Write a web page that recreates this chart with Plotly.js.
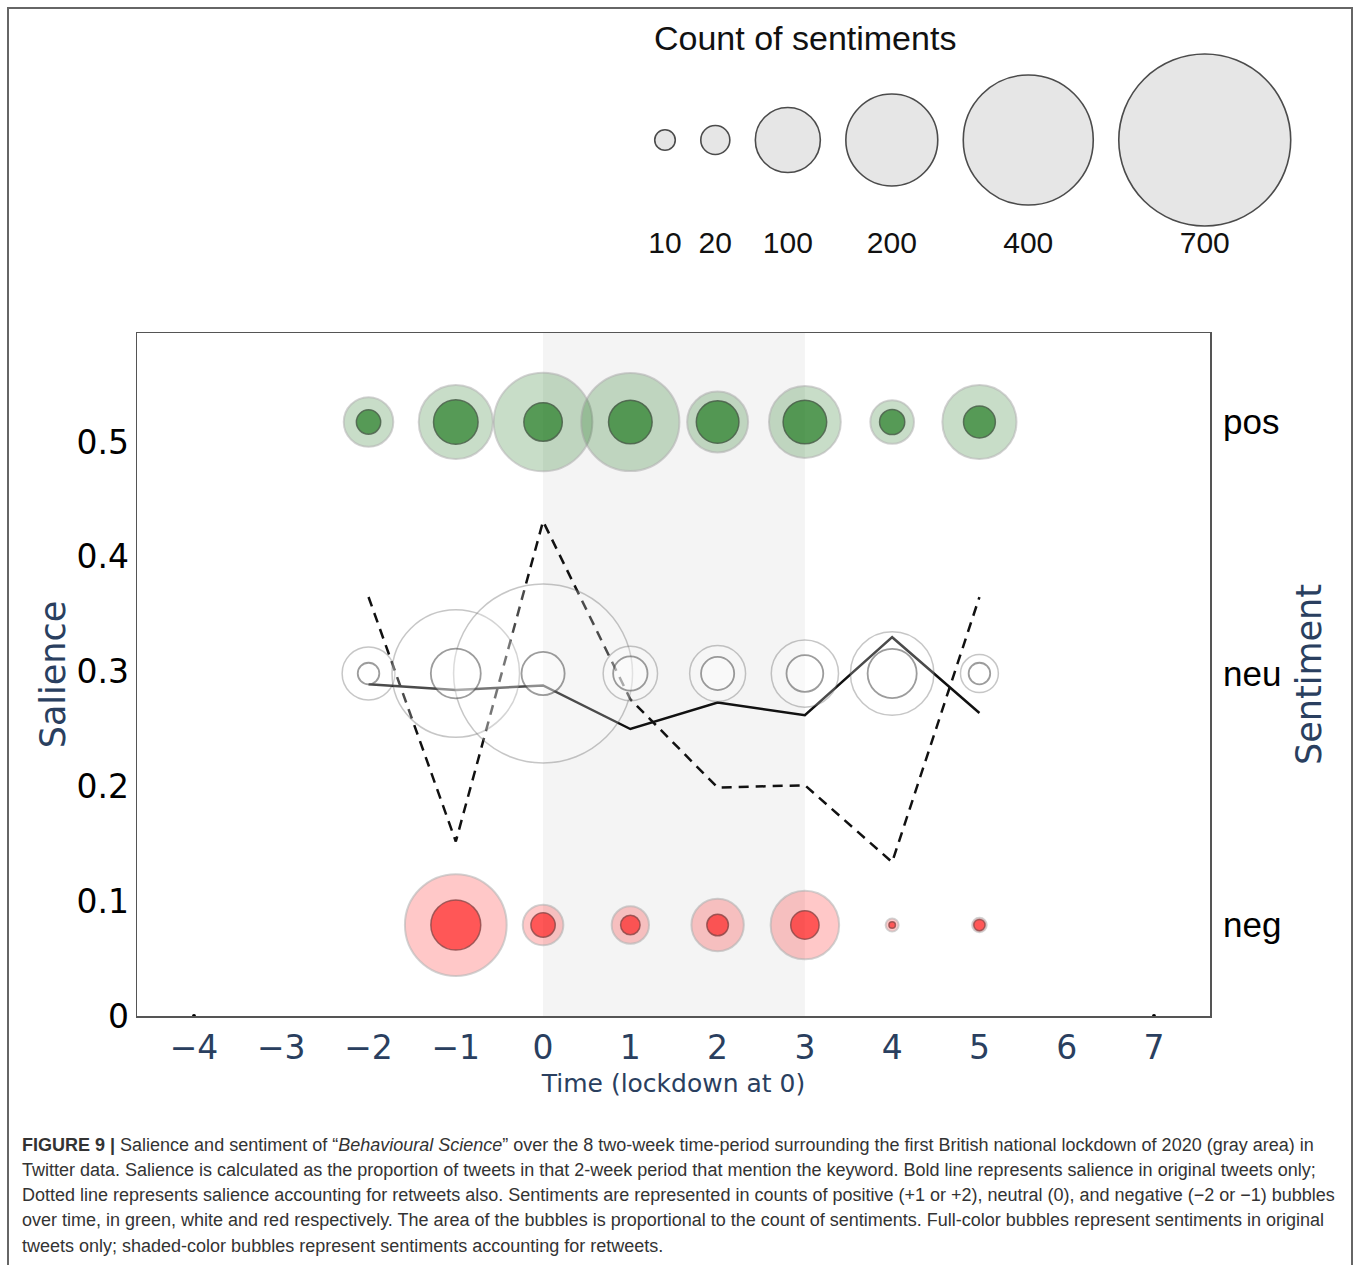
<!DOCTYPE html>
<html><head><meta charset="utf-8">
<script src="https://cdn.plot.ly/plotly-3.0.1.min.js"></script>
<style>html,body{margin:0;padding:0;background:#fff}#chart{width:1360px;height:1265px}</style>
</head><body><div id="chart"></div>
<script>
// ---- data ----
const periods = [-2, -1, 0, 1, 2, 3, 4, 5];
const salienceOriginal = [0.289, 0.284, 0.288, 0.250, 0.273, 0.262, 0.330, 0.264];
const salienceRetweets = [0.365, 0.152, 0.431, 0.276, 0.199, 0.201, 0.134, 0.365];
const posAll  = [58, 130, 230, 228, 88, 122, 45, 130];
const posOrig = [14, 47, 35, 45, 43, 45, 15, 24];
const neuAll  = [66, 385, 758, 70, 74, 107, 165, 34];
const neuOrig = [11, 59, 44, 28, 26, 32, 57, 11];
const negPeriods = [-1, 0, 1, 2, 3, 4, 5];
const negAll  = [245, 39, 33, 65, 111, 4, 5];
const negOrig = [59, 14, 9, 11, 19, 1, 3];
const sentimentLabels = ['neg', 'neu', 'pos'];
const legendCounts = [10, 20, 100, 200, 400, 700];
const lockdownStart = 0, lockdownEnd = 3;
const axisEnds = [-4, 7];

const captionLines = [
  '<b>FIGURE 9 |</b> Salience and sentiment of “<i>Behavioural Science</i>” over the 8 two-week time-period surrounding the first British national lockdown of 2020 (gray area) in',
  'Twitter data. Salience is calculated as the proportion of tweets in that 2-week period that mention the keyword. Bold line represents salience in original tweets only;',
  'Dotted line represents salience accounting for retweets also. Sentiments are represented in counts of positive (+1 or +2), neutral (0), and negative (−2 or −1) bubbles',
  'over time, in green, white and red respectively. The area of the bubbles is proportional to the count of sentiments. Full-color bubbles represent sentiments in original',
  'tweets only; shaded-color bubbles represent sentiments accounting for retweets.'
];

// ---- layout helpers ----
const W = 1360, H = 1265;
const SIZEREF = 0.04734;
const diam = c => 2 * Math.sqrt(c / (2 * SIZEREF));
const legendX = [];
let cx = 665;
legendCounts.forEach((c, i) => {
  if (i > 0) cx += diam(legendCounts[i - 1]) / 2 + 25.5 + diam(c) / 2;
  legendX.push(cx);
});
const rowOf = (lab, n) => Array(n).fill(sentimentLabels.indexOf(lab));

function bubble(x, y, sizes, fill, lineColor, lineWidth) {
  return {
    type: 'scatter', mode: 'markers', x: x, y: y, xaxis: 'x', yaxis: 'y2',
    marker: { size: sizes, sizemode: 'area', sizeref: SIZEREF, color: fill,
              line: { color: lineColor, width: lineWidth } },
    cliponaxis: false, hoverinfo: 'skip'
  };
}

const traces = [
  { type: 'scatter', mode: 'lines', x: periods, y: salienceOriginal, xaxis: 'x', yaxis: 'y',
    line: { color: '#111', width: 2.5 }, hoverinfo: 'skip' },
  { type: 'scatter', mode: 'lines', x: periods, y: salienceRetweets, xaxis: 'x', yaxis: 'y',
    line: { color: '#111', width: 2.5, dash: '10px,7px' }, hoverinfo: 'skip' },
  { type: 'scatter', mode: 'markers', x: axisEnds, y: [0, 0], xaxis: 'x', yaxis: 'y',
    marker: { size: 4, color: '#000' }, cliponaxis: false, hoverinfo: 'skip' },
  bubble(periods, rowOf('pos', periods.length), posAll, 'rgba(0,100,0,0.3)', 'rgba(150,150,150,0.6)', 2),
  bubble(periods, rowOf('neu', periods.length), neuAll, 'rgba(255,255,255,0.35)', 'rgba(110,110,110,0.55)', 1.5),
  bubble(negPeriods, rowOf('neg', negPeriods.length), negAll, 'rgba(255,0,0,0.3)', 'rgba(150,150,150,0.6)', 2),
  bubble(periods, rowOf('pos', periods.length), posOrig, 'rgba(10,110,10,0.85)', 'rgba(25,45,25,0.85)', 1.5),
  bubble(periods, rowOf('neu', periods.length), neuOrig, 'rgba(255,255,255,0.55)', 'rgba(80,80,80,0.8)', 1.8),
  bubble(negPeriods, rowOf('neg', negPeriods.length), negOrig, 'rgba(255,0,0,0.8)', 'rgba(90,20,20,0.8)', 1.5),
  { type: 'scatter', mode: 'markers', x: legendX, y: legendX.map(() => 140), xaxis: 'x3', yaxis: 'y3',
    marker: { size: legendCounts, sizemode: 'area', sizeref: SIZEREF, color: '#dcdcdc',
              line: { color: '#000', width: 1.6 } }, cliponaxis: false, hoverinfo: 'skip' },
  { type: 'scatter', mode: 'text', x: legendX, y: legendX.map(() => 245), xaxis: 'x3', yaxis: 'y3',
    text: legendCounts.map(String), textposition: 'middle center',
    textfont: { family: 'Liberation Sans, Arial, sans-serif', size: 30, color: '#111' },
    cliponaxis: false, hoverinfo: 'skip' }
];

const navy = '#2a3f5f';
const annotations = [
  { xref: 'x3', yref: 'y3', x: 652, y: 38, xanchor: 'left', yanchor: 'middle', showarrow: false,
    text: 'Count of sentiments', font: { family: 'Liberation Sans, Arial, sans-serif', size: 34, color: '#111' } }
];
const capY = [1145, 1170, 1195, 1220, 1246];
captionLines.forEach((t, i) => annotations.push({
  xref: 'paper', yref: 'paper', x: 20 / W, y: 1 - capY[i] / H, xanchor: 'left', yanchor: 'middle',
  align: 'left', showarrow: false, text: t,
  font: { family: 'Liberation Sans, Arial, sans-serif', size: 18, color: '#333' }
}));

const layout = {
  width: W, height: H, margin: { l: 0, r: 0, t: 0, b: 0, pad: 0 },
  paper_bgcolor: '#fff', plot_bgcolor: '#fff', showlegend: false, hovermode: false,
  xaxis: {
    domain: [137 / W, 1210 / W], range: [-4.653, 7.642], tick0: 0, dtick: 1, anchor: 'y',
    showgrid: false, zeroline: false, showline: true, mirror: true, linecolor: '#555', linewidth: 1.5,
    ticks: '', ticklabelstandoff: 2,
    tickfont: { family: 'DejaVu Sans, Verdana, sans-serif', size: 33, color: navy },
    title: { text: 'Time (lockdown at 0)', standoff: 8,
             font: { family: 'DejaVu Sans, Verdana, sans-serif', size: 25, color: navy } }
  },
  yaxis: {
    domain: [1 - 1016 / H, 1 - 333 / H], range: [0, 0.595], tick0: 0, dtick: 0.1, anchor: 'x',
    showgrid: false, zeroline: false, showline: true, mirror: true, linecolor: '#555', linewidth: 1.5,
    ticks: '', ticklabelstandoff: 0,
    tickfont: { family: 'DejaVu Sans, Verdana, sans-serif', size: 33, color: '#000' },
    title: { text: 'Salience', standoff: 0,
             font: { family: 'DejaVu Sans, Verdana, sans-serif', size: 35, color: navy } }
  },
  yaxis2: {
    overlaying: 'y', side: 'right', anchor: 'x', range: [-0.3618, 2.3539],
    tickvals: [0, 1, 2], ticktext: sentimentLabels, showgrid: false, zeroline: false, showline: false,
    ticks: '', ticklabelstandoff: 12,
    tickfont: { family: 'Liberation Sans, Arial, sans-serif', size: 35, color: '#000' },
    title: { text: 'Sentiment', standoff: 16,
             font: { family: 'DejaVu Sans, Verdana, sans-serif', size: 35, color: navy } }
  },
  xaxis3: { domain: [0, 1], range: [0, W], visible: false, anchor: 'y3', fixedrange: true },
  yaxis3: { domain: [1 - 316 / H, 1], range: [316, 0], visible: false, anchor: 'x3', fixedrange: true },
  shapes: [
    { type: 'rect', xref: 'x', yref: 'y domain', x0: lockdownStart, x1: lockdownEnd, y0: 0, y1: 1,
      fillcolor: '#f4f4f4', line: { width: 0 }, layer: 'below' },
    { type: 'rect', xref: 'paper', yref: 'paper', x0: 8 / W, x1: 1352 / W, y0: -0.05, y1: 1 - 8 / H,
      fillcolor: 'rgba(0,0,0,0)', line: { color: '#666', width: 2 }, layer: 'below' }
  ],
  annotations: annotations
};

Plotly.newPlot('chart', traces, layout, { staticPlot: true, displayModeBar: false });
</script>
</body></html>
